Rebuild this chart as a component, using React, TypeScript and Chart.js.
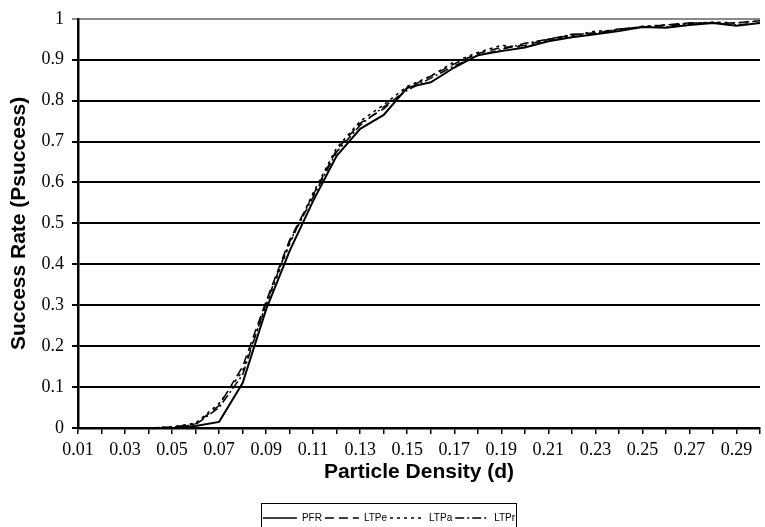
import React, { useEffect, useRef } from "react";
import { Chart, registerables } from "chart.js";

Chart.register(...registerables);

const categories = [
  "0.01", "0.02", "0.03", "0.04", "0.05", "0.06", "0.07", "0.08", "0.09", "0.10",
  "0.11", "0.12", "0.13", "0.14", "0.15", "0.16", "0.17", "0.18", "0.19", "0.20",
  "0.21", "0.22", "0.23", "0.24", "0.25", "0.26", "0.27", "0.28", "0.29", "0.30",
];

const pfr = [
  0, 0, 0, 0, 0, 0.005, 0.015, 0.11, 0.29, 0.433,
  0.555, 0.665, 0.731, 0.765, 0.832, 0.845, 0.881, 0.911, 0.921, 0.93,
  0.945, 0.955, 0.962, 0.97, 0.98, 0.978, 0.985, 0.99, 0.983, 0.99,
];
const ltpe = [
  0, 0, 0, 0, 0.002, 0.01, 0.055, 0.15, 0.31, 0.46,
  0.57, 0.68, 0.745, 0.78, 0.83, 0.86, 0.89, 0.915, 0.93, 0.935,
  0.95, 0.96, 0.965, 0.975, 0.98, 0.985, 0.99, 0.99, 0.99, 0.995,
];
const ltpa = [
  0, 0, 0, 0, 0.003, 0.012, 0.06, 0.14, 0.3, 0.45,
  0.575, 0.685, 0.75, 0.79, 0.835, 0.86, 0.895, 0.918, 0.935, 0.93,
  0.948, 0.958, 0.97, 0.972, 0.982, 0.985, 0.988, 0.992, 0.99, 0.995,
];
const ltpr = [
  0, 0, 0, 0, 0.002, 0.008, 0.05, 0.13, 0.305, 0.455,
  0.565, 0.675, 0.74, 0.785, 0.825, 0.855, 0.885, 0.91, 0.925, 0.94,
  0.95, 0.962, 0.965, 0.975, 0.98, 0.98, 0.99, 0.99, 0.985, 0.99,
];

const seriesNames = ["PFR", "LTPe", "LTPa", "LTPr"];

const LEGEND_PAD = 3;
const LEGEND_DX = 7;
const LEGEND_DY = 6;

const legendBorder = {
  id: "legendBorder",
  afterLayout(chart: any) {
    const lg = chart.legend;
    if (!lg) return;
    lg.left += LEGEND_DX;
    lg.right += LEGEND_DX;
    lg.top += LEGEND_DY;
    lg.bottom += LEGEND_DY;
  },
  afterDraw(chart: any) {
    const lg = chart.legend;
    if (!lg || !lg.lineWidths) return;
    const rowW = lg.lineWidths[0];
    const start = (lg.left + LEGEND_PAD + lg.right - rowW) / 2;
    const l = start - 2;
    const w = rowW - LEGEND_PAD + 3;
    const t = lg.top + LEGEND_PAD - 10;
    const ctx = chart.ctx;
    ctx.save();
    ctx.strokeStyle = "#000";
    ctx.lineWidth = 1;
    ctx.setLineDash([]);
    ctx.strokeRect(Math.round(l) + 0.5, Math.round(t) + 0.5, Math.round(w), 40);
    ctx.restore();
  },
};

export default function App() {
  const ref = useRef<HTMLCanvasElement | null>(null);
  useEffect(() => {
    document.body.style.margin = "0";
    const ctx = ref.current!;
    const mk = (label: string, data: number[], dash: number[], w: number) => ({
      label,
      data,
      borderColor: "#000",
      backgroundColor: "#000",
      borderWidth: w,
      borderDash: dash,
      pointRadius: 0,
      tension: 0,
      fill: false,
      pointStyle: "line",
    });
    const chart = new Chart(ctx, {
      type: "line",
      data: {
        labels: categories,
        datasets: [
          mk(seriesNames[0], pfr, [], 2),
          mk(seriesNames[1], ltpe, [9, 5], 1.5),
          mk(seriesNames[2], ltpa, [3, 4], 1.5),
          mk(seriesNames[3], ltpr, [9, 3, 2, 3], 1.5),
        ],
      },
      options: {
        animation: false,
        responsive: true,
        maintainAspectRatio: false,
        layout: { padding: { top: 16, right: 1, left: 0, bottom: 0 } },
        plugins: {
          tooltip: { enabled: false },
          legend: {
            position: "bottom",
            labels: {
              usePointStyle: true,
              pointStyleWidth: 34,
              boxHeight: 10,
              padding: LEGEND_PAD,
              color: "#000",
              font: { family: "'Liberation Sans', Arial, sans-serif", size: 10 },
              generateLabels: (ch: any) =>
                ch.data.datasets.map((ds: any, i: number) => ({
                  text: ds.label,
                  fillStyle: "#000",
                  strokeStyle: "#000",
                  fontColor: "#000",
                  lineWidth: 1.5,
                  lineDash: ds.borderDash,
                  pointStyle: "line",
                  hidden: false,
                  datasetIndex: i,
                })),
            },
          },
        },
        scales: {
          x: {
            type: "category",
            afterFit: (s: any) => {
              s.height = 76;
            },
            grid: {
              drawOnChartArea: false,
              drawTicks: true,
              tickLength: 6,
              color: "#000",
              lineWidth: 1.5,
            },
            border: { color: "#000", width: 2.5 },
            ticks: {
              autoSkip: false,
              maxRotation: 0,
              color: "#000",
              padding: 5,
              font: { family: "'Liberation Serif', 'Times New Roman', serif", size: 18 },
              callback: (_v: any, i: number) => (i % 2 === 0 ? categories[i] : ""),
            },
            title: {
              display: true,
              text: "Particle Density (d)",
              color: "#000",
              font: { family: "'Liberation Sans', Arial, sans-serif", size: 21, weight: "bold" },
              padding: { top: 4, bottom: 19 },
            },
          },
          y: {
            min: 0,
            max: 1,
            afterFit: (s: any) => {
              s.width = 78;
            },
            grid: {
              color: (c: any) => (c.tick && c.tick.value === 1 ? "#8a8a8a" : "#000"),
              lineWidth: 2,
              tickLength: 6,
            },
            border: { color: "#000", width: 2.5 },
            ticks: {
              stepSize: 0.1,
              color: "#000",
              padding: 8,
              font: { family: "'Liberation Serif', 'Times New Roman', serif", size: 18 },
              callback: (v: any) => String(Number(Number(v).toFixed(1))),
            },
            title: {
              display: true,
              text: "Success Rate (Psuccess)",
              color: "#000",
              font: { family: "'Liberation Sans', Arial, sans-serif", size: 21, weight: "bold" },
              padding: { top: 7, bottom: 0 },
            },
          },
        },
      },
      plugins: [legendBorder],
    } as any);
    return () => chart.destroy();
  }, []);
  return (
    <div style={{ width: 765, height: 527, position: "relative" }}>
      <canvas ref={ref} />
    </div>
  );
}
